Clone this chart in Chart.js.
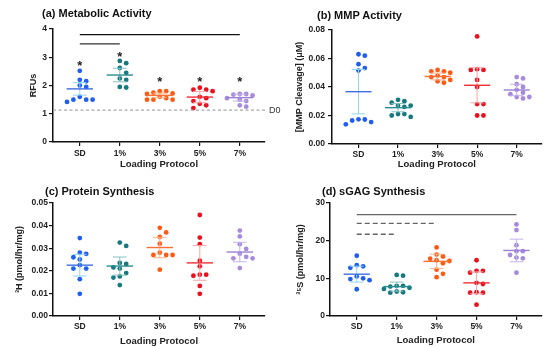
<!DOCTYPE html>
<html>
<head>
<meta charset="utf-8">
<script src="https://cdn.jsdelivr.net/npm/chart.js@4.4.1/dist/chart.umd.min.js"></script>
<style>
  html, body { margin: 0; padding: 0; background: #fff; }
  body { width: 544px; height: 347px; position: relative; overflow: hidden; font-family: 'Liberation Sans', Arial, sans-serif; }
  .panel { position: absolute; }
  .ptitle { position: absolute; font-weight: bold; font-size: 11px; line-height: 13px; color: #111; white-space: nowrap; }
</style>
</head>
<body>
<div class="panel" style="left:0;top:0;width:290px;height:170px"><canvas id="chartA"></canvas></div>
<div class="panel" style="left:272px;top:0;width:272px;height:170px"><canvas id="chartB"></canvas></div>
<div class="panel" style="left:0;top:170px;width:272px;height:177px"><canvas id="chartC"></canvas></div>
<div class="panel" style="left:272px;top:170px;width:272px;height:177px"><canvas id="chartD"></canvas></div>

<div class="ptitle" style="left:42px;top:7px">(a) Metabolic Activity</div>
<div class="ptitle" style="left:317px;top:9px">(b) MMP Activity</div>
<div class="ptitle" style="left:45px;top:185px">(c) Protein Synthesis</div>
<div class="ptitle" style="left:322px;top:185px">(d) sGAG Synthesis</div>

<script>
const categories = ['SD', '1%', '3%', '5%', '7%'];

const pointColors = ['#1f5ef0', '#16797f', '#ff5a14', '#ec0f1d', '#a68bdc'];
const meanColors = ['#3f6fe0', '#2a8d90', '#ff6f33', '#f03038', '#9a80d6'];
const errorColors = ['#8fd4f4', '#86c1c3', '#ffb38a', '#f6a7aa', '#c4b3ea'];

/* (a) Metabolic activity, RFUs */
const metabolicValues = [
  [2.52, 2.2, 2.15, 2.0, 1.95, 1.6, 1.5, 1.5, 1.5, 1.42],
  [2.87, 2.79, 2.62, 2.45, 2.25, 2.2, 1.95, 1.93],
  [1.8, 1.8, 1.75, 1.72, 1.7, 1.6, 1.55, 1.5, 1.5, 1.5],
  [1.92, 1.85, 1.85, 1.8, 1.6, 1.55, 1.45, 1.35, 1.3, 1.2],
  [1.7, 1.7, 1.68, 1.65, 1.55, 1.5, 1.45, 1.3, 1.25],
];
const metabolicMeans = [1.88, 2.37, 1.65, 1.59, 1.57];
const metabolicErrors = [0.22, 0.24, 0.08, 0.2, 0.12];
const metabolicTicks = ['0', '1', '2', '3', '4'];
const metabolicStars = [2.8, 3.1, 2.22, 2.22, 2.22];
const metabolicD0 = 1.13;

/* (b) MMP activity, uM */
const mmpValues = [
  [0.063, 0.062, 0.056, 0.0533, 0.0515, 0.0173, 0.0172, 0.0165, 0.0154, 0.0138],
  [0.031, 0.03, 0.029, 0.027, 0.027, 0.026, 0.021, 0.021, 0.02, 0.019],
  [0.052, 0.051, 0.051, 0.05, 0.048, 0.047, 0.047, 0.045, 0.044, 0.043],
  [0.0755, 0.0525, 0.052, 0.052, 0.045, 0.04, 0.028, 0.028, 0.02, 0.02],
  [0.047, 0.046, 0.042, 0.04, 0.038, 0.036, 0.035, 0.033, 0.033, 0.032],
];
const mmpMeans = [0.0367, 0.0255, 0.0474, 0.0412, 0.0379];
const mmpErrors = [0.0156, 0.0029, 0.0024, 0.0123, 0.004];
const mmpTicks = ['0.00', '0.02', '0.04', '0.06', '0.08'];

/* (c) Protein synthesis, 3H */
const proteinValues = [
  [0.0345, 0.028, 0.0275, 0.026, 0.025, 0.0225, 0.021, 0.021, 0.0163, 0.0098],
  [0.0325, 0.031, 0.0235, 0.023, 0.0215, 0.021, 0.019, 0.0175, 0.017, 0.0137],
  [0.039, 0.037, 0.035, 0.032, 0.028, 0.027, 0.027, 0.027, 0.0205],
  [0.0447, 0.0347, 0.0318, 0.0245, 0.022, 0.0183, 0.0183, 0.0178, 0.0133, 0.0098],
  [0.0378, 0.0352, 0.0318, 0.0297, 0.0275, 0.0262, 0.0255, 0.0255, 0.0212],
];
const proteinMeans = [0.0225, 0.0221, 0.0303, 0.0235, 0.0283];
const proteinErrors = [0.0048, 0.004, 0.0045, 0.0077, 0.0043];
const proteinTicks = ['0.00', '0.01', '0.02', '0.03', '0.04', '0.05'];

/* (d) sGAG synthesis, 35S */
const sgagValues = [
  [16.0, 13.5, 13.2, 12.8, 10.5, 10.0, 9.8, 9.5, 7.1],
  [10.9, 10.7, 8.0, 8.0, 7.8, 7.5, 7.2, 6.5, 6.3, 6.2],
  [18.2, 16.3, 15.8, 15.2, 14.8, 14.6, 14.0, 12.3, 11.2, 10.3],
  [14.8, 12.0, 12.0, 11.5, 8.8, 8.5, 6.3, 6.2, 6.2, 3.0],
  [24.3, 22.8, 18.8, 17.2, 17.2, 16.2, 15.5, 15.3, 11.5],
];
const sgagMeans = [11.1, 7.8, 14.5, 8.8, 17.4];
const sgagErrors = [2.1, 1.2, 1.9, 2.9, 3.0];
const sgagTicks = ['0', '10', '20', '30'];

const fontFamily = "'Liberation Sans', Arial, sans-serif";
Chart.defaults.font.family = fontFamily;

/* spread points of one group sideways so they don't overlap */
function swarm(values, index, pxPerY) {
  const step = 0.16, pxPerX = 40, minDist = 5.2;
  const placed = [];
  return values.map((v) => {
    let off = 0;
    for (let k = 0; k < 14; k++) {
      const cand = (k % 2 ? 1 : -1) * Math.ceil(k / 2) * step;
      const ok = placed.every((p) => Math.hypot((p.x - cand) * pxPerX, (p.y - v) * pxPerY) >= minDist);
      if (ok) { off = cand; break; }
    }
    placed.push({ x: off, y: v });
    return { x: index + off, y: v };
  });
}

const summaryPlugin = {
  id: 'summary',
  afterDatasetsDraw(chart, args, opts) {
    const { ctx, chartArea } = chart;
    const x = chart.scales.x, y = chart.scales.y;
    ctx.save();

    if (opts.baseline != null) {
      const py = y.getPixelForValue(opts.baseline);
      ctx.strokeStyle = '#a8a8a8';
      ctx.lineWidth = 1.2;
      ctx.setLineDash([3, 2.5]);
      ctx.beginPath();
      ctx.moveTo(chartArea.left, py);
      ctx.lineTo(chartArea.right + 2, py);
      ctx.stroke();
      ctx.setLineDash([]);
      ctx.fillStyle = '#333';
      ctx.font = `9px ${fontFamily}`;
      ctx.textBaseline = 'middle';
      ctx.textAlign = 'left';
      ctx.fillText('D0', chartArea.right + 4, py);
    }

    opts.means.forEach((m, i) => {
      const cx = x.getPixelForValue(i);
      const top = y.getPixelForValue(m + opts.errors[i]);
      const bot = y.getPixelForValue(m - opts.errors[i]);
      const cap = x.getPixelForValue(i + 0.17) - cx;
      const half = x.getPixelForValue(i + 0.33) - cx;
      const my = y.getPixelForValue(m);

      ctx.strokeStyle = errorColors[i];
      ctx.lineWidth = 1;
      ctx.beginPath();
      ctx.moveTo(cx, top); ctx.lineTo(cx, bot);
      ctx.moveTo(cx - cap, top); ctx.lineTo(cx + cap, top);
      ctx.moveTo(cx - cap, bot); ctx.lineTo(cx + cap, bot);
      ctx.stroke();

      ctx.strokeStyle = meanColors[i];
      ctx.lineWidth = 1.4;
      ctx.beginPath();
      ctx.moveTo(cx - half, my); ctx.lineTo(cx + half, my);
      ctx.stroke();
    });

    (opts.brackets || []).forEach((b) => {
      const py = y.getPixelForValue(b.value);
      ctx.strokeStyle = b.color;
      ctx.lineWidth = 1.3;
      ctx.setLineDash(b.dashed ? [5, 3] : []);
      ctx.beginPath();
      ctx.moveTo(x.getPixelForValue(b.from), py);
      ctx.lineTo(x.getPixelForValue(b.to), py);
      ctx.stroke();
    });
    ctx.setLineDash([]);

    (opts.stars || []).forEach((s, i) => {
      ctx.fillStyle = '#222';
      ctx.font = `bold 13px ${fontFamily}`;
      ctx.textAlign = 'center';
      ctx.textBaseline = 'alphabetic';
      ctx.fillText('*', x.getPixelForValue(i), y.getPixelForValue(s) + 7);
    });

    ctx.restore();
  },
};

function makeChart(id, cfg) {
  const yTickValues = cfg.ticks.map(Number);
  const yMax = yTickValues[yTickValues.length - 1];
  const datasets = cfg.values.map((vals, i) => ({
    data: swarm(vals, i, 113 / yMax),
    backgroundColor: pointColors[i],
    pointRadius: 2.4,
    pointHoverRadius: 2.4,
    borderWidth: 0,
  }));

  new Chart(document.getElementById(id), {
    type: 'scatter',
    data: { datasets },
    options: {
      responsive: true,
      maintainAspectRatio: false,
      animation: false,
      events: [],
      layout: { padding: cfg.padding },
      plugins: {
        legend: { display: false },
        tooltip: { enabled: false },
        summary: {
          means: cfg.means,
          errors: cfg.errors,
          brackets: cfg.brackets || [],
          stars: cfg.stars || [],
          baseline: cfg.baseline,
        },
      },
      scales: {
        x: {
          type: 'linear',
          min: -0.67,
          max: 4.63,
          afterBuildTicks: (s) => { s.ticks = categories.map((c, i) => ({ value: i })); },
          afterFit: (s) => { s.height = cfg.xHeight; },
          ticks: {
            callback: (v) => categories[v],
            font: { size: 8.5, weight: 'bold' },
            color: '#222',
            padding: cfg.xPad,
            maxRotation: 0,
            autoSkip: false,
          },
          grid: { drawOnChartArea: false, tickLength: 4, color: '#111', lineWidth: 1.2 },
          border: { color: '#111', width: 1.5 },
          title: {
            display: true,
            text: 'Loading Protocol',
            font: { size: 9.5, weight: 'bold' },
            color: '#222',
            padding: 0,
          },
        },
        y: {
          min: 0,
          max: yMax,
          afterBuildTicks: (s) => { s.ticks = yTickValues.map((v) => ({ value: v })); },
          afterFit: (s) => { s.width = cfg.yWidth; },
          ticks: {
            callback: (v, i) => cfg.ticks[i],
            font: { size: 8.5, weight: 'bold' },
            color: '#222',
            padding: cfg.yPad,
            autoSkip: false,
          },
          grid: { drawOnChartArea: false, tickLength: 4, color: '#111', lineWidth: 1.2 },
          border: { color: '#111', width: 1.5 },
          title: {
            display: true,
            text: cfg.yTitle,
            font: { size: 9, weight: 'bold' },
            color: '#222',
            padding: 0,
          },
        },
      },
    },
    plugins: [summaryPlugin],
  });
}

makeChart('chartA', {
  values: metabolicValues, means: metabolicMeans, errors: metabolicErrors, ticks: metabolicTicks,
  yTitle: 'RFUs',
  stars: metabolicStars,
  baseline: metabolicD0,
  brackets: [
    { from: 0, to: 1, value: 3.47, color: '#333', dashed: false },
    { from: 0, to: 4, value: 3.8, color: '#111', dashed: false },
  ],
  padding: { left: 28.6, right: 25, top: 29, bottom: 0 },
  yWidth: 24.4, xHeight: 28, xPad: 3, yPad: 2,
});

makeChart('chartB', {
  values: mmpValues, means: mmpMeans, errors: mmpErrors, ticks: mmpTicks,
  yTitle: '[MMP Cleavage] (μM)',
  padding: { left: 22.6, right: 0, top: 30, bottom: 0 },
  yWidth: 37.4, xHeight: 26, xPad: 2, yPad: 3,
});

makeChart('chartC', {
  values: proteinValues, means: proteinMeans, errors: proteinErrors, ticks: proteinTicks,
  yTitle: '³H (pmol/hr/mg)',
  padding: { left: 14.6, right: 7, top: 33, bottom: 0 },
  yWidth: 38.4, xHeight: 31, xPad: 2, yPad: 1,
});

makeChart('chartD', {
  values: sgagValues, means: sgagMeans, errors: sgagErrors, ticks: sgagTicks,
  yTitle: '³⁵S (pmol/hr/mg)',
  brackets: [
    { from: 0, to: 4, value: 26.9, color: '#666', dashed: false },
    { from: 0, to: 2, value: 24.6, color: '#666', dashed: true },
    { from: 0, to: 1, value: 21.7, color: '#666', dashed: true },
  ],
  padding: { left: 23.6, right: 0, top: 33, bottom: 1.3 },
  yWidth: 34.4, xHeight: 29.7, xPad: 2, yPad: 1,
});
</script>
</body>
</html>
